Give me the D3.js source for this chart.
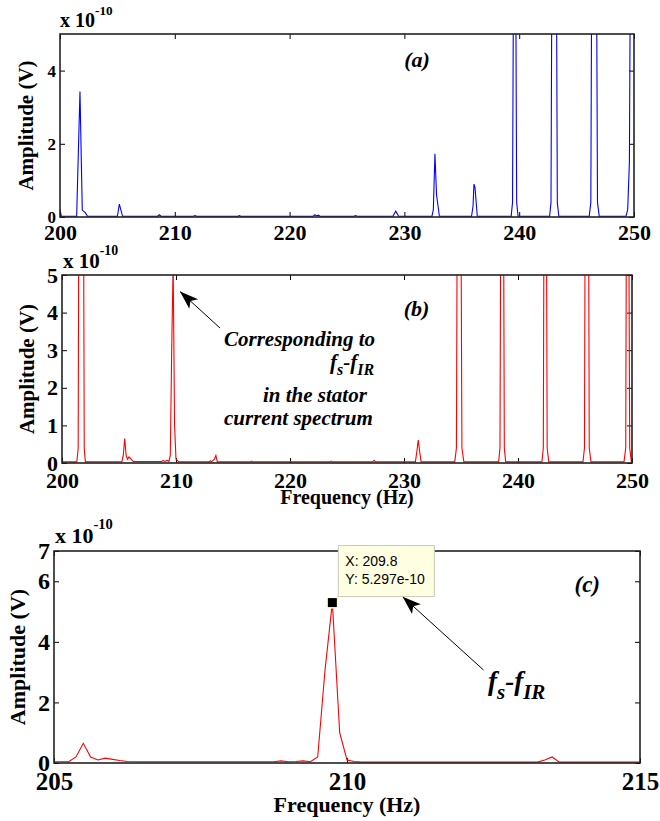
<!DOCTYPE html>
<html>
<head>
<meta charset="utf-8">
<script src="https://cdn.jsdelivr.net/npm/d3@7/dist/d3.min.js"></script>
<style>
  html, body { margin: 0; padding: 0; background: #fff; }
  svg { display: block; }
</style>
</head>
<body>
<svg id="chart" width="660" height="821"></svg>
<script>
// ---------- DATA (amplitudes in units of 1e-10 V) ----------
const panelAFreq = [200.0,200.12,201.45,201.74,201.94,202.2,202.4,205.0,205.17,205.45,208.5,208.65,208.8,211.6,211.76,211.9,215.5,215.62,215.75,222.05,222.2,222.35,222.5,222.65,225.6,225.75,225.9,229.0,229.25,229.5,232.4,232.52,232.66,232.8,233.05,235.85,235.98,236.06,236.15,236.35,239.3,239.42,239.52,239.68,239.78,239.9,242.65,242.77,242.86,243.23,243.32,243.45,246.1,246.24,246.33,246.72,246.82,246.97,249.3,249.45,249.6,249.7,250.0];
const panelAAmp  = [0.2,0.02,0.02,3.43,0.19,0.12,0.02,0.02,0.35,0.02,0.02,0.06,0.02,0.02,0.04,0.02,0.02,0.04,0.02,0.02,0.06,0.03,0.05,0.02,0.02,0.04,0.02,0.02,0.16,0.02,0.02,0.2,1.73,0.6,0.02,0.02,0.3,0.9,0.8,0.02,0.02,0.4,8,8,0.4,0.02,0.02,0.4,8,8,0.4,0.02,0.02,0.4,8,8,0.4,0.02,0.02,0.2,1.5,8,12];

const panelBFreq = [200.0,201.3,201.42,201.48,201.88,201.95,202.05,205.25,205.375,205.5,205.625,205.75,205.875,206.0,206.125,206.25,208.75,208.875,209.0,209.25,209.375,209.5,209.625,209.75,209.875,210.0,210.25,212.875,213.0,213.125,213.375,213.5,213.625,216.5,216.625,216.75,223.5,223.625,223.75,227.25,227.375,227.5,231.0,231.125,231.25,231.375,231.5,234.45,234.6,234.68,234.98,235.08,235.25,238.3,238.42,238.5,238.72,238.8,238.92,242.1,242.22,242.29,242.48,242.56,242.7,245.7,245.83,245.9,246.18,246.25,246.4,249.3,249.45,249.52,249.7,249.8,249.95,250.0];
const panelBAmp  = [0.03,0.03,0.4,8,8,0.4,0.03,0.03,0.2,0.65,0.2,0.1,0.16,0.12,0.08,0.04,0.04,0.07,0.04,0.07,0.04,0.2,3.07,5.297,1.0,0.1,0.03,0.03,0.06,0.03,0.1,0.2,0.03,0.03,0.05,0.03,0.03,0.05,0.03,0.03,0.07,0.03,0.03,0.3,0.61,0.3,0.03,0.03,0.4,8,8,0.4,0.03,0.03,0.4,8,8,0.4,0.03,0.03,0.4,8,8,0.4,0.03,0.03,0.4,8,8,0.4,0.03,0.03,0.4,8,8,0.4,0.03,0.03];

const panelCFreq = [205.0,205.25,205.375,205.5,205.625,205.75,205.875,206.0,206.125,206.25,206.5,208.75,208.875,209.0,209.125,209.25,209.375,209.5,209.625,209.75,209.875,210.0,210.125,210.25,213.25,213.375,213.5,213.625,215.0];
const panelCAmp  = [0.04,0.04,0.2,0.65,0.2,0.1,0.16,0.12,0.08,0.05,0.04,0.04,0.07,0.04,0.05,0.07,0.04,0.2,3.07,5.297,1.0,0.1,0.05,0.03,0.03,0.1,0.2,0.03,0.03];

const ticksAX = [200,210,220,230,240,250];
const ticksAY = [0,2,4];
const ticksBX = [200,210,220,230,240,250];
const ticksBY = [0,1,2,3,4,5];
const ticksCX = [205,210,215];
const ticksCY = [0,2,4,6,7];

const datatipX = 209.75, datatipY = 5.297;
const datatipLines = ["X: 209.8", "Y: 5.297e-10"];

// ---------- DRAW ----------
const SERIF = '"Liberation Serif", "Times New Roman", Times, serif';
const SANS = '"Liberation Sans", Arial, Helvetica, sans-serif';
const svg = d3.select("#chart");
svg.append("rect").attr("width", 660).attr("height", 821).attr("fill", "#fff");
const defs = svg.append("defs");
defs.append("marker").attr("id","arrowhead")
  .attr("markerUnits","userSpaceOnUse").attr("markerWidth",24).attr("markerHeight",24)
  .attr("viewBox","-20 -8 22 16").attr("refX",0).attr("refY",0).attr("orient","auto")
  .append("path").attr("d","M0,0 L-17,-6 L-13,0 L-17,6 Z").attr("fill","#000");

function txt(sel, size, italic) {
  return sel.style("font-family", SERIF).style("font-weight", "bold")
    .style("font-style", italic ? "italic" : "normal")
    .style("font-size", size + "px").attr("fill", "#000");
}

function panel(cfg) {
  const x = d3.scaleLinear().domain(cfg.xDomain).range([cfg.left, cfg.right]);
  const y = d3.scaleLinear().domain(cfg.yDomain).range([cfg.bottom, cfg.top]);
  const g = svg.append("g");
  const clipId = "clip-" + cfg.id;
  defs.append("clipPath").attr("id", clipId).append("rect")
    .attr("x", cfg.left).attr("y", cfg.top)
    .attr("width", cfg.right - cfg.left).attr("height", cfg.bottom - cfg.top);
  const fmt = d3.format("d");

  // axes with inward ticks on all four sides
  const bx = g.append("g").attr("transform", `translate(0,${cfg.bottom})`)
    .call(d3.axisBottom(x).tickValues(cfg.xTicks).tickFormat(fmt).tickSizeInner(-5).tickSizeOuter(0).tickPadding(0));
  txt(bx.selectAll("text").attr("dy", null).attr("y", cfg.xLabelOffset), cfg.xTickFont);
  g.append("g").attr("transform", `translate(0,${cfg.top})`)
    .call(d3.axisTop(x).tickValues(cfg.xTicks).tickSizeInner(-5).tickSizeOuter(0).tickFormat(""));
  const ly = g.append("g").attr("transform", `translate(${cfg.left},0)`)
    .call(d3.axisLeft(y).tickValues(cfg.yTicks).tickFormat(fmt).tickSizeInner(-5).tickSizeOuter(0).tickPadding(0));
  txt(ly.selectAll("text").attr("x", -cfg.yLabelGap), cfg.yTickFont);
  g.append("g").attr("transform", `translate(${cfg.right},0)`)
    .call(d3.axisRight(y).tickValues(cfg.yTicks).tickSizeInner(-5).tickSizeOuter(0).tickFormat(""));
  g.selectAll(".domain").remove();
  g.selectAll(".tick line").attr("stroke", "#000").attr("stroke-width", 1);

  // data line
  const pts = cfg.freq.map((f, i) => [f, cfg.amp[i]]);
  g.append("path").datum(pts)
    .attr("clip-path", `url(#${clipId})`)
    .attr("fill", "none").attr("stroke", cfg.color).attr("stroke-width", 1.1)
    .attr("d", d3.line().x(d => x(d[0])).y(d => y(d[1])));

  // box
  g.append("rect").attr("x", cfg.left).attr("y", cfg.top)
    .attr("width", cfg.right - cfg.left).attr("height", cfg.bottom - cfg.top)
    .attr("fill", "none").attr("stroke", "#222").attr("stroke-width", 1.6);

  // exponent
  const ex = txt(g.append("text").attr("x", cfg.left + cfg.expDx).attr("y", cfg.expY), cfg.expFont);
  ex.append("tspan").text("x 10");
  ex.append("tspan").attr("dy", -cfg.expFont * 0.62).style("font-size", (cfg.expFont * 0.66) + "px").text("-10");

  // y label
  txt(g.append("text")
    .attr("transform", `translate(${cfg.yTitleX},${(cfg.top + cfg.bottom) / 2}) rotate(-90)`)
    .attr("text-anchor", "middle").attr("dy", "0.35em"), cfg.yTitleFont).text("Amplitude (V)");

  if (cfg.xTitle) {
    txt(g.append("text").attr("x", (cfg.left + cfg.right) / 2).attr("y", cfg.xTitleY)
      .attr("text-anchor", "middle"), cfg.xTitleFont).text(cfg.xTitle);
  }
  // panel tag
  txt(g.append("text").attr("x", x(cfg.tag[0])).attr("y", y(cfg.tag[1]))
    .attr("text-anchor", "middle"), cfg.tagFont, true).text(cfg.tag[2]);
  return {g, x, y};
}

// Panel (a)
panel({id:"a", left:60, right:634, top:34, bottom:217, xDomain:[200,250], yDomain:[0,5],
  xTicks:ticksAX, yTicks:ticksAY, freq:panelAFreq, amp:panelAAmp, color:"#0000ff",
  xLabelOffset:23, xTickFont:22, yTickFont:17, yLabelGap:4,
  expDx:0, expY:27, expFont:20, yTitleX:26, yTitleFont:21,
  tag:[231.1, 4.1, "(a)"], tagFont:22});

// Panel (b)
const pb = panel({id:"b", left:62, right:632, top:275, bottom:463, xDomain:[200,250], yDomain:[0,5],
  xTicks:ticksBX, yTicks:ticksBY, freq:panelBFreq, amp:panelBAmp, color:"#ff0000",
  xLabelOffset:25, xTickFont:22, yTickFont:22, yLabelGap:4,
  expDx:1, expY:268, expFont:21, yTitleX:27, yTitleFont:21,
  xTitle:"Frequency (Hz)", xTitleY:504, xTitleFont:20,
  tag:[231.1, 3.9, "(b)"], tagFont:22});

// annotation (b)
pb.g.append("line").attr("x1", pb.x(213.86)).attr("y1", pb.y(3.59))
  .attr("x2", pb.x(210.35)).attr("y2", pb.y(4.56))
  .attr("stroke", "#000").attr("stroke-width", 1).attr("marker-end", "url(#arrowhead)");
const annB = pb.g.append("g");
txt(annB.append("text").attr("x", 224).attr("y", 346), 21, true).text("Corresponding to");
const fB = txt(annB.append("text").attr("x", 330).attr("y", 369), 21, true);
fB.append("tspan").text("f");
fB.append("tspan").attr("dy", 6).style("font-size", "16px").text("s");
fB.append("tspan").attr("dy", -6).text("-f");
fB.append("tspan").attr("dy", 6).style("font-size", "16px").text("IR");
txt(annB.append("text").attr("x", 263).attr("y", 402), 21, true).text("in the stator");
txt(annB.append("text").attr("x", 224).attr("y", 425), 21, true).text("current spectrum");

// Panel (c)
const pc = panel({id:"c", left:54, right:640, top:551, bottom:763, xDomain:[205,215], yDomain:[0,7],
  xTicks:ticksCX, yTicks:ticksCY, freq:panelCFreq, amp:panelCAmp, color:"#ff0000",
  xLabelOffset:27, xTickFont:25, yTickFont:24, yLabelGap:4,
  expDx:1, expY:543, expFont:22, yTitleX:17, yTitleFont:22,
  xTitle:"Frequency (Hz)", xTitleY:812, xTitleFont:22,
  tag:[214.1, 5.65, "(c)"], tagFont:23});

// annotation arrow (c)
pc.g.append("line").attr("x1", pc.x(212.33)).attr("y1", pc.y(3.07))
  .attr("x2", pc.x(210.95)).attr("y2", pc.y(5.49))
  .attr("stroke", "#000").attr("stroke-width", 1).attr("marker-end", "url(#arrowhead)");
const fC = txt(pc.g.append("text").attr("x", 488).attr("y", 690), 27, true);
fC.append("tspan").text("f");
fC.append("tspan").attr("dy", 9).style("font-size", "21px").text("s");
fC.append("tspan").attr("dy", -9).text("-f");
fC.append("tspan").attr("dy", 9).style("font-size", "21px").text("IR");

// datatip (c)
const mx = pc.x(datatipX), my = pc.y(datatipY);
pc.g.append("rect").attr("x", mx + 6).attr("y", my - 57).attr("width", 96).attr("height", 51)
  .attr("fill", "#ffffe1").attr("stroke", "#c8c8b4").attr("stroke-width", 1);
pc.g.append("rect").attr("x", mx - 6).attr("y", my - 6).attr("width", 12).attr("height", 12)
  .attr("fill", "#ffffe1");
pc.g.append("rect").attr("x", mx - 4.5).attr("y", my - 4.5).attr("width", 9).attr("height", 9)
  .attr("fill", "#000");
datatipLines.forEach((t, i) => {
  pc.g.append("text").attr("x", mx + 13).attr("y", my - 37 + i * 18)
    .style("font-family", SANS).style("font-size", "14px").attr("fill", "#000").text(t);
});
</script>
</body>
</html>
